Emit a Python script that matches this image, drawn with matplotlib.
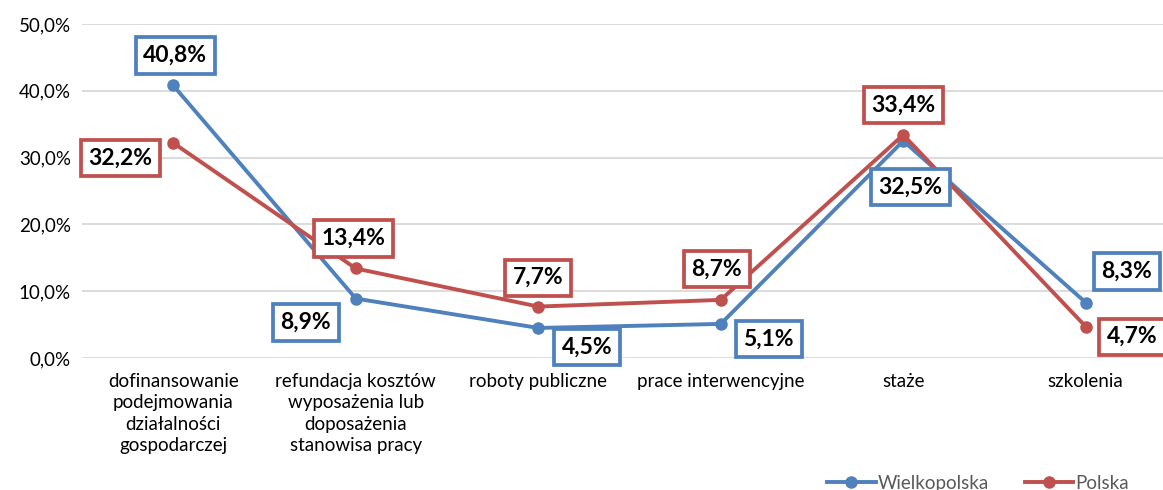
import matplotlib
matplotlib.use("Agg")
import matplotlib.pyplot as plt
from matplotlib.ticker import FuncFormatter

categories = ["dofinansowanie\npodejmowania\ndziałalności\ngospodarczej",
              "refundacja kosztów\nwyposażenia lub\ndoposażenia\nstanowisa pracy",
              "roboty publiczne", "prace interwencyjne", "staże", "szkolenia"]
wielkopolska = [40.8, 8.9, 4.5, 5.1, 32.5, 8.3]
polska = [32.2, 13.4, 7.7, 8.7, 33.4, 4.7]
series_names = ["Wielkopolska", "Polska"]

blue = "#4F81BD"
red = "#C0504D"
plt.rcParams['font.family'] = ['Lato', 'DejaVu Sans']

fig = plt.figure(figsize=(11.63, 4.9), dpi=100)
ax = fig.add_axes([82/1163, 132/490, (1177-82)/1163, 334/490])

x = list(range(len(categories)))
ax.plot(x, wielkopolska, color=blue, lw=2.8, marker="o", ms=8, label=series_names[0], zorder=3)
ax.plot(x, polska, color=red, lw=2.8, marker="o", ms=8, label=series_names[1], zorder=3)

ax.set_xlim(-0.5, len(categories) - 0.5)
ax.set_ylim(0, 50)
ax.set_yticks([0, 10, 20, 30, 40, 50])
ax.yaxis.set_major_formatter(FuncFormatter(lambda v, p: f"{v:.1f}%".replace(".", ",")))
ax.set_xticks(x)
ax.set_xticklabels(categories, fontsize=13.5, color="#000000", linespacing=1.3)
ax.tick_params(axis="both", length=0, labelsize=13.5)
ax.tick_params(axis="x", pad=11)
ax.tick_params(axis="y", pad=8)
for lab in ax.get_yticklabels():
    lab.set_color("#000000")
ax.grid(axis="y", color="#D9D9D9", lw=1.3)
ax.set_axisbelow(True)
for s in ax.spines.values():
    s.set_visible(False)

# label offsets in pixels (dx, dy upward)
w_off = [(2, 30), (-50, -24), (49, -19), (48, -15), (7, -46), (41, 31)]
p_off = [(-53, -15), (-2, 30), (0, 29), (-4, 31), (0, 30), (46, -10)]

def lab(vals, offs, color):
    for xi, v, (dx, dy) in zip(x, vals, offs):
        ax.annotate(f"{v:.1f}%".replace(".", ","), (xi, v),
                    xytext=(dx * 0.72, dy * 0.72), textcoords="offset points",
                    ha="center", va="center", fontsize=16.5, fontweight="bold",
                    color="black", zorder=5, annotation_clip=False,
                    bbox=dict(boxstyle="square,pad=0.33", fc="white", ec=color, lw=2.7))

lab(wielkopolska, w_off, blue)
lab(polska, p_off, red)

leg = fig.legend(loc="center", bbox_to_anchor=(978/1163, 1 - 483/490), ncol=2,
                 frameon=False, fontsize=13.5, handlelength=2.6, columnspacing=1.9,
                 handletextpad=0.1)
for t in leg.get_texts():
    t.set_color("#595959")

fig.savefig("out.png", dpi=100)
